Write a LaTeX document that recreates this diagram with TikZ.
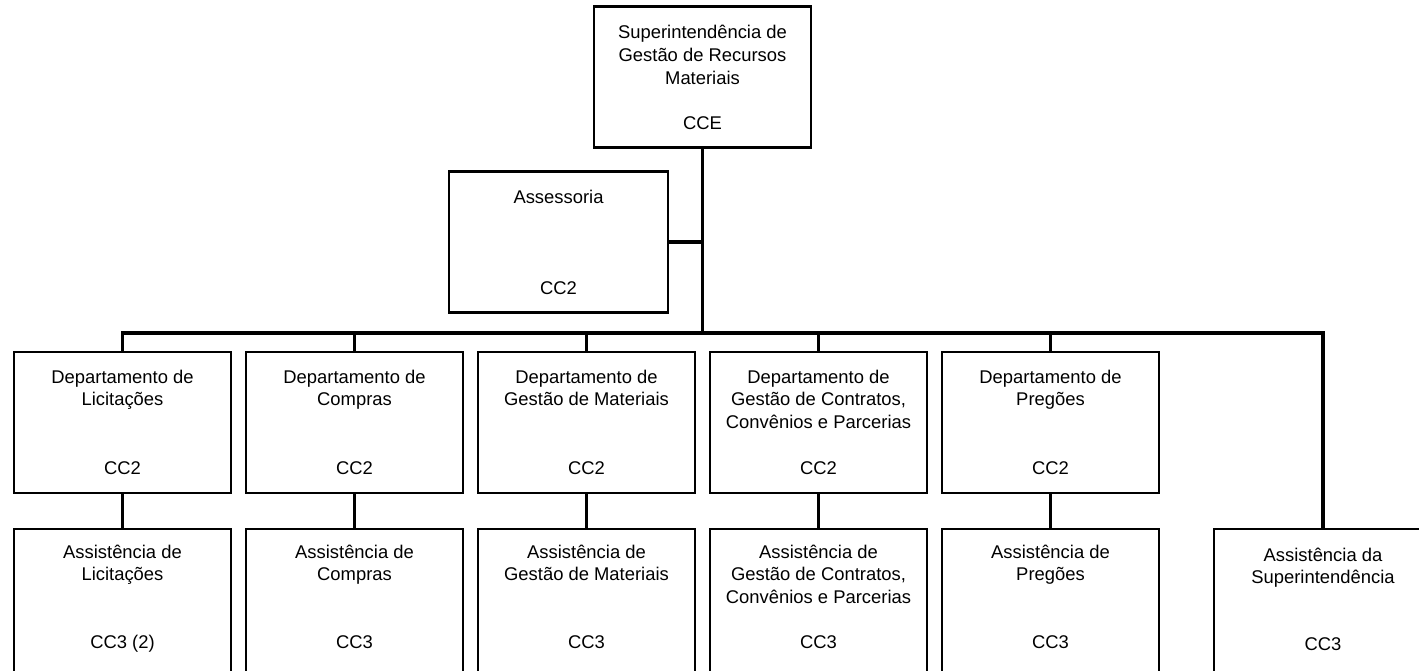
\documentclass[tikz,border=0pt]{standalone}
\usepackage{fontspec}
\setmainfont{Liberation Sans}
\usetikzlibrary{positioning}

\tikzset{
  unit/.style={draw, line width=2.8pt, minimum width=217pt, minimum height=141pt, inner sep=0pt},
  title/.style={anchor=north, align=center, inner sep=0pt, font=\fontsize{18.4}{22.7}\selectfont, execute at begin node=\strut},
  code/.style={anchor=base, inner sep=0pt, font=\fontsize{18.4}{22.7}\selectfont},
  link/.style={line width=3.8pt}
}

\begin{document}
\begin{tikzpicture}[x=1pt,y=-1pt]

      \useasboundingbox (0,0) rectangle (1419,670);
      \clip (0,0) rectangle (1419,670);

      \begin{scope}[every node/.style={unit}]
        \node (sup) at (702.5,77)  {};
        \node[minimum width=219pt] (ass) at (558.5,242) {};
        \node (dl) at (122.5,422.5) {};
        \node (dc) at (354.5,422.5) {};
        \node (dm) at (586.5,422.5) {};
        \node (dk) at (818.5,422.5) {};
        \node (dp) at (1050.5,422.5) {};
        \node[minimum height=145pt] (al) at (122.5,601.5) {};
        \node[minimum height=145pt] (ac) at (354.5,601.5) {};
        \node[minimum height=145pt] (am) at (586.5,601.5) {};
        \node[minimum height=145pt] (ak) at (818.5,601.5) {};
        \node[minimum height=145pt] (ap) at (1050.5,601.5) {};
        \node[minimum height=145pt, minimum width=218pt] (as) at (1323,601.5) {};
      \end{scope}

      % titles and codes
      \node[title] (sup-t) at ([yshift=-20pt]sup.north) {Superintendência de\\Gestão de Recursos\\Materiais};
      \node[code]  (sup-c) at ([yshift=-124pt]sup.north) {CCE};
      \node[title] (ass-t) at ([yshift=-17pt]ass.north) {Assessoria};
      \node[code]  (ass-c) at ([yshift=-124pt]ass.north) {CC2};

      \node[title] (dl-t) at ([yshift=-19pt]dl.north) {Departamento de\\Licitações};
      \node[title] (dc-t) at ([yshift=-19pt]dc.north) {Departamento de\\Compras};
      \node[title] (dm-t) at ([yshift=-19pt]dm.north) {Departamento de\\Gestão de Materiais};
      \node[title] (dk-t) at ([yshift=-19pt]dk.north) {Departamento de\\Gestão de Contratos,\\Convênios e Parcerias};
      \node[title] (dp-t) at ([yshift=-19pt]dp.north) {Departamento de\\Pregões};
      \foreach \n in {dl,dc,dm,dk,dp}
        \node[code] (\n-c) at ([yshift=-124pt]\n.north) {CC2};

      \node[title] (al-t) at ([yshift=-17pt]al.north) {Assistência de\\Licitações};
      \node[title] (ac-t) at ([yshift=-17pt]ac.north) {Assistência de\\Compras};
      \node[title] (am-t) at ([yshift=-17pt]am.north) {Assistência de\\Gestão de Materiais};
      \node[title] (ak-t) at ([yshift=-17pt]ak.north) {Assistência de\\Gestão de Contratos,\\Convênios e Parcerias};
      \node[title] (ap-t) at ([yshift=-17pt]ap.north) {Assistência de\\Pregões};
      \node[title] (as-t) at ([yshift=-20pt]as.north) {Assistência da\\Superintendência};
      \node[code] (al-c) at ([yshift=-121pt]al.north) {CC3 (2)};
      \foreach \n in {ac,am,ak,ap}
        \node[code] (\n-c) at ([yshift=-121pt]\n.north) {CC3};
      \node[code] (as-c) at ([yshift=-123pt]as.north) {CC3};

      % connectors
      \coordinate (bus) at (0,333);
      \begin{scope}[every path/.style={link}]
        \draw (sup.south) -- (sup.south |- bus);
        \draw (ass.east) -- (ass.east -| sup.south);
        \draw (dl.north) -- (dl.north |- bus) -- (as.north |- bus) -- (as.north);
        \foreach \n in {dc,dm,dk,dp}
          \draw (\n.north) -- (\n.north |- bus);
        \foreach \a/\b in {dl/al,dc/ac,dm/am,dk/ak,dp/ap}
          \draw (\a.south) -- (\b.north);
      \end{scope}

    \end{tikzpicture}
\end{document}
